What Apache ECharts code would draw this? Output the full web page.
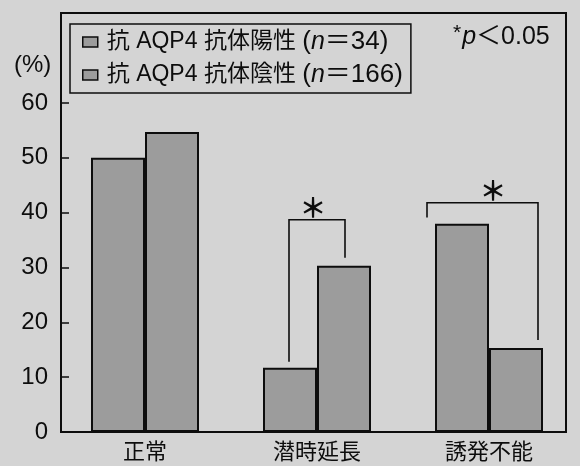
<!DOCTYPE html>
<html>
<head>
<meta charset="utf-8">
<script src="https://cdn.jsdelivr.net/npm/echarts@6/dist/echarts.min.js"></script>
<style>
  html, body { margin: 0; padding: 0; background: #d4d4d4; }
  #chart { width: 580px; height: 466px; }
</style>
</head>
<body>
<div id="chart"></div>
<script>
// Response categories and percentages per antibody group
const categories = ['正常', '潜時延長', '誘発不能'];
const positiveName = '抗 AQP4 抗体陽性 (n＝34)';
const negativeName = '抗 AQP4 抗体陰性 (n＝166)';
const positiveValues = [50, 11.7, 38];
const negativeValues = [54.7, 30.3, 15.3];
const yMin = 0;
const yMax = 60;
const yStep = 10;

// Significance brackets: category index, bracket level and leg end levels (in %)
const bracketCats = [1, 2];
const bracketTops = [38.7, 41.8];
const bracketLeftEnds = [12.8, 39.1];
const bracketRightEnds = [31.8, 16.8];

const FONT = "'Liberation Sans', 'Noto Sans CJK JP', sans-serif";
const INK = '#0d0d0d';
const BAR = '#9c9c9c';

// horizontal leg offsets from the category centre (px) and star offset
const bracketLayout = [
  { dxL: -28, dxR: 28, dxStar: -4 },
  { dxL: -62, dxR: 49, dxStar: 4 }
];

const chart = echarts.init(document.getElementById('chart'), null, { renderer: 'canvas' });

function legendLabel(name) {
  const open = name.indexOf('(');
  const main = name.slice(0, open);
  const rest = name.slice(open + 2); // after "(n"
  return '{t|' + main + '}{p|(}{i|n}{p|' + rest + '}';
}

function renderBracket(params, api) {
  const i = params.dataIndex;
  const lay = bracketLayout[i];
  const cat = api.value(0);
  const cx = api.coord([cat, 0])[0];
  const yTop = api.coord([cat, api.value(1)])[1];
  const yL = api.coord([cat, api.value(2)])[1];
  const yR = api.coord([cat, api.value(3)])[1];
  const xL = cx + lay.dxL;
  const xR = cx + lay.dxR;
  return {
    type: 'group',
    children: [
      {
        type: 'polyline',
        shape: { points: [[xL, yL], [xL, yTop], [xR, yTop], [xR, yR]] },
        style: { stroke: INK, lineWidth: 1.6, fill: null }
      },
      {
        type: 'text',
        style: {
          text: '＊',
          x: cx + lay.dxStar,
          y: yTop - 12,
          align: 'center',
          verticalAlign: 'middle',
          font: "bold 27px 'Noto Sans CJK JP', sans-serif",
          fill: INK
        }
      }
    ]
  };
}

const option = {
  backgroundColor: '#d4d4d4',
  animation: false,
  grid: { left: 59, right: 5, top: 103, bottom: 34 },
  legend: {
    data: [positiveName, negativeName],
    orient: 'vertical',
    left: 70,
    top: 24,
    padding: [5, 8, 5, 12],
    itemGap: 7,
    itemWidth: 15,
    itemHeight: 10,
    icon: 'rect',
    borderColor: INK,
    borderWidth: 1.5,
    selectedMode: false,
    itemStyle: { color: BAR, borderColor: INK, borderWidth: 1.5 },
    formatter: legendLabel,
    textStyle: {
      color: INK,
      fontFamily: FONT,
      fontSize: 23,
      rich: {
        t: { fontFamily: FONT, fontSize: 23, color: INK, padding: [0, 0, 0, 4] },
        p: { fontFamily: FONT, fontSize: 26, color: INK },
        i: { fontFamily: FONT, fontSize: 25, color: INK, fontStyle: 'italic' }
      }
    }
  },
  xAxis: {
    type: 'category',
    data: categories,
    axisLine: { show: false },
    axisTick: { show: false },
    axisLabel: { color: INK, fontFamily: FONT, fontSize: 22, margin: 10 },
    splitLine: { show: false }
  },
  yAxis: {
    type: 'value',
    min: yMin,
    max: yMax,
    interval: yStep,
    offset: -3,
    axisLine: { show: false },
    axisTick: { show: true, inside: true, length: 7, lineStyle: { color: INK, width: 1.5 } },
    axisLabel: { color: INK, fontFamily: FONT, fontSize: 24, margin: 14 },
    splitLine: { show: false }
  },
  series: [
    {
      name: positiveName,
      type: 'bar',
      data: positiveValues,
      barWidth: 54,
      barGap: '0%',
      itemStyle: { color: BAR, borderColor: INK, borderWidth: 2 }
    },
    {
      name: negativeName,
      type: 'bar',
      data: negativeValues,
      barWidth: 54,
      itemStyle: { color: BAR, borderColor: INK, borderWidth: 2 }
    },
    {
      type: 'custom',
      name: 'significance',
      renderItem: renderBracket,
      clip: false,
      silent: true,
      z: 5,
      data: bracketCats.map((c, k) => [c, bracketTops[k], bracketLeftEnds[k], bracketRightEnds[k]])
    }
  ],
  graphic: [
    {
      // plot frame
      type: 'rect',
      shape: { x: 61, y: 13, width: 505, height: 419 },
      style: { fill: null, stroke: INK, lineWidth: 2 },
      z: 10,
      silent: true
    },
    {
      type: 'text',
      left: 14,
      top: 53,
      style: { text: '(%)', font: "24px 'Liberation Sans', sans-serif", fill: INK },
      silent: true
    },
    {
      type: 'text',
      left: 453,
      top: 23,
      style: {
        text: '{s|*}{i|p}{t|＜0.05}',
        rich: {
          s: { font: "21px 'Liberation Sans', sans-serif", fill: INK, verticalAlign: 'top', padding: [0, 1, 8, 0] },
          i: { font: "italic 25px 'Liberation Sans', sans-serif", fill: INK },
          t: { font: "25px 'Liberation Sans', 'Noto Sans CJK JP', sans-serif", fill: INK }
        }
      },
      silent: true
    }
  ]
};

chart.setOption(option);
</script>
</body>
</html>
